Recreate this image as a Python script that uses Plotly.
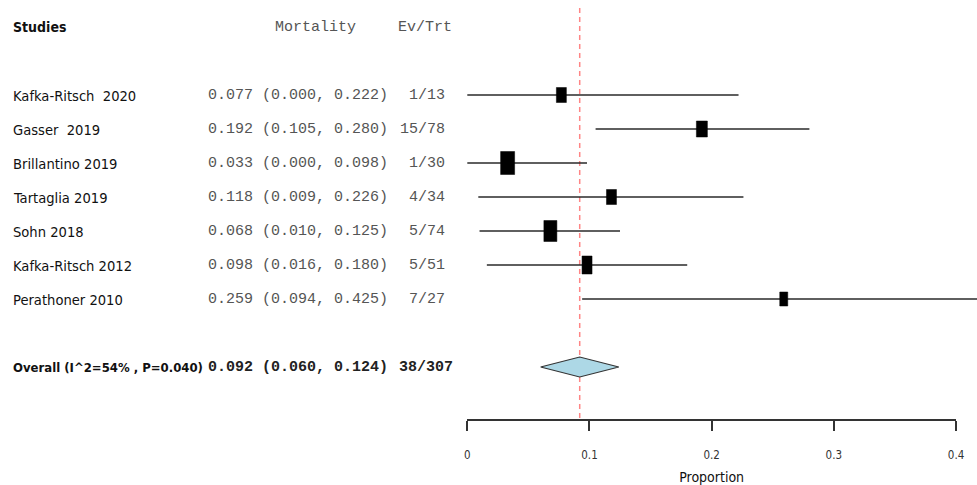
import plotly.graph_objects as go

# ---------------- data ----------------
studies = ["Kafka-Ritsch  2020", "Gasser  2019", "Brillantino 2019", "Tartaglia 2019",
           "Sohn 2018", "Kafka-Ritsch 2012", "Perathoner 2010"]
est = [0.077, 0.192, 0.033, 0.118, 0.068, 0.098, 0.259]
lo = [0.000, 0.105, 0.000, 0.009, 0.010, 0.016, 0.094]
hi = [0.222, 0.280, 0.098, 0.226, 0.125, 0.180, 0.425]
events = [1, 15, 1, 4, 5, 5, 7]
totals = [13, 78, 30, 34, 74, 51, 27]

overall_label = "Overall (I^2=54% , P=0.040)"
overall_est = 0.092
overall_lo = 0.060
overall_hi = 0.124
overall_events = 38
overall_total = 307

tick_vals = [0, 0.1, 0.2, 0.3, 0.4]
tick_text = ["0", "0.1", "0.2", "0.3", "0.4"]
header_study = "Studies"
header_effect = "Mortality"
header_n = "Ev/Trt"
x_title = "Proportion"

# ---------------- styling / geometry ----------------
W, H = 977, 485
PX0 = 467.3            # pixel of x=0
PX_PER_UNIT = 1221.8   # pixels per unit of proportion
ROW0_PX = 27.0         # pixel of row 0 (header)
ROW_PX = 34.0          # pixels per row
box_h_px = [15, 16, 23, 15, 21, 18, 14]
box_w_px = [10, 11, 14, 10, 13, 10, 8]

NARROW = "DejaVu Sans Condensed, Liberation Sans Narrow, Arial Narrow, Liberation Sans, sans-serif"
MONO = "Liberation Mono, Courier New, monospace"

x_range = [-PX0 / PX_PER_UNIT, (W - PX0) / PX_PER_UNIT]
y_range = [(H - ROW0_PX) / ROW_PX, -ROW0_PX / ROW_PX]
study_rows = [2 + i for i in range(len(studies))]
overall_row = study_rows[-1] + 2
axis_px = 420

fig = go.Figure()

# reference line at overall estimate
fig.add_trace(go.Scatter(
    x=[overall_est, overall_est],
    y=[(8 - ROW0_PX) / ROW_PX, (axis_px - ROW0_PX) / ROW_PX],
    mode="lines", line=dict(color="#FF8585", width=1.5, dash="5px,4px"),
    hoverinfo="skip", showlegend=False))

# CI whiskers
for r, a, b in zip(study_rows, lo, hi):
    fig.add_trace(go.Scatter(x=[a, b], y=[r, r], mode="lines",
                             line=dict(color="#2a2a2a", width=1.6),
                             hoverinfo="skip", showlegend=False))

# boxes
for r, e, hp, wp in zip(study_rows, est, box_h_px, box_w_px):
    hw = wp / 2 / PX_PER_UNIT
    hh = hp / 2 / ROW_PX
    fig.add_trace(go.Scatter(
        x=[e - hw, e + hw, e + hw, e - hw, e - hw],
        y=[r - hh, r - hh, r + hh, r + hh, r - hh],
        mode="lines", fill="toself", fillcolor="black",
        line=dict(color="black", width=0.5),
        hoverinfo="skip", showlegend=False))

# diamond
dh = 10 / ROW_PX
fig.add_trace(go.Scatter(
    x=[overall_lo, overall_est, overall_hi, overall_est, overall_lo],
    y=[overall_row, overall_row - dh, overall_row, overall_row + dh, overall_row],
    mode="lines", fill="toself", fillcolor="#ADD8E6",
    line=dict(color="#333333", width=1.2),
    hoverinfo="skip", showlegend=False))

# dummy trace to activate the display axis
fig.add_trace(go.Scatter(x=[0, 0.4], y=[None, None], xaxis="x2", yaxis="y",
                         mode="markers", showlegend=False, hoverinfo="skip"))

ann = []
def add_text(text, xpx, row, anchor, font):
    ann.append(dict(text=text, x=xpx / W, xref="paper", y=row, yref="y",
                    xanchor=anchor, yanchor="middle", showarrow=False, font=font,
                    borderpad=0))

name_font = dict(family=NARROW, size=14.6, color="#111111")
bold_font = dict(family=NARROW, size=14.0, color="#111111")
bold_small = dict(family=NARROW, size=13.0, color="#111111")
mono_font = dict(family=MONO, size=15, color="#555555")
mono_bold = dict(family=MONO, size=15, color="#222222")

add_text("<b>" + header_study + "</b>", 12, 0, "left", bold_font)
add_text(header_effect, 274, 0, "left", mono_font)
add_text(header_n, 453, 0, "right", mono_font)

for r, s, e, a, b, ev, n in zip(study_rows, studies, est, lo, hi, events, totals):
    add_text(s, 12, r, "left", name_font)
    add_text(f"{e:.3f} ({a:.3f}, {b:.3f})", 207, r, "left", mono_font)
    add_text(f"{ev}/{n}", 446, r, "right", mono_font)

add_text("<b>" + overall_label + "</b>", 12, overall_row, "left", bold_small)
add_text(f"<b>{overall_est:.3f} ({overall_lo:.3f}, {overall_hi:.3f})</b>", 207, overall_row, "left",
         mono_bold)
add_text(f"<b>{overall_events}/{overall_total}</b>", 454, overall_row, "right", mono_bold)

fig.update_layout(
    template="none",
    width=W, height=H, margin=dict(l=0, r=0, t=0, b=0, pad=0), autosize=False,
    paper_bgcolor="white", plot_bgcolor="rgba(0,0,0,0)",
    xaxis=dict(range=x_range, visible=False, fixedrange=True, automargin=False),
    yaxis=dict(range=y_range, visible=False, fixedrange=True, automargin=False),
    xaxis2=dict(domain=[PX0 / W, (PX0 + 0.4 * PX_PER_UNIT) / W], range=[0, 0.4],
                anchor="free", position=(H - axis_px) / H, side="bottom",
                automargin=False,
                showline=True, linecolor="#333333", linewidth=1.5,
                ticks="outside", ticklen=10, tickwidth=1.5, tickcolor="#333333",
                tickvals=tick_vals, ticktext=tick_text, ticklabelstandoff=14,
                tickfont=dict(family=NARROW, size=11.5, color="#333333"),
                showgrid=False, zeroline=False, fixedrange=True,
                title=dict(text=x_title, standoff=11,
                           font=dict(family=NARROW, size=14, color="#111111"))),
    annotations=ann,
    showlegend=False,
)

fig.write_html("out.html", config={"displayModeBar": False},
               post_script="document.body.style.margin='0';")
